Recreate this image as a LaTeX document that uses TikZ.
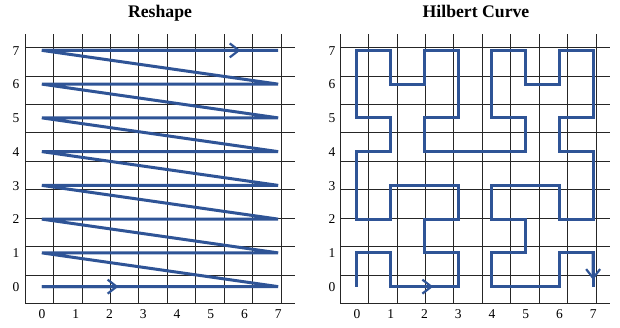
\documentclass[tikz,border=0pt]{standalone}
\usepackage{fontspec}
\setmainfont{Liberation Serif}
\usetikzlibrary{calc,arrows.meta}
\definecolor{curveblue}{RGB}{47,84,150}
\tikzset{
  gridline/.style={draw=black!85,line width=0.7pt},
  curve/.style={draw=curveblue,line width=3pt,line join=miter},
  barb/.style={-{Straight Barb[length=9pt,width=14pt,line width=2.2pt]}},
  ticklabel/.style={font=\fontsize{13.5}{14}\selectfont,inner sep=0pt,anchor=base},
  titlelabel/.style={font=\fontsize{17.7}{20}\selectfont\bfseries,anchor=base,inner sep=0pt}
}
\begin{document}
\begin{tikzpicture}[x=1pt,y=-1pt]
\useasboundingbox (0,0) rectangle (620,327);
\node[titlelabel] (t1) at (160,17) {Reshape};
\node[titlelabel] (t2) at (476,17) {Hilbert Curve};
% Reshape
\begin{scope}[shift={(25,303.5)},x=33.75pt,y=33.75pt]
  \draw[gridline] (0,0) grid (8,8);
  \foreach \k in {0,...,7}{
    \node[ticklabel] (rx\k) at (\k+.5,-0.44) {\k};
    \node[ticklabel] (ry\k) at (-0.27,\k+.362) {\k};
    \coordinate (L\k) at (0.5,\k+.5);
    \coordinate (R\k) at (7.5,\k+.5);
  }
  \draw[curve] (L0) -- (R0) -- (L1) -- (R1) -- (L2) -- (R2) -- (L3) -- (R3)
    -- (L4) -- (R4) -- (L5) -- (R5) -- (L6) -- (R6) -- (L7) -- (R7);
  \draw[curve,barb] (L0) -- ($(L0)!0.324!(R0)$);
  \draw[curve,barb] (L7) -- ($(L7)!0.841!(R7)$);
\end{scope}
% Hilbert
\begin{scope}[shift={(340,303.5)},x=33.75pt,y=33.75pt]
  \draw[gridline] (0,0) grid (8,8);
  \foreach \k in {0,...,7}{
    \node[ticklabel] (hx\k) at (\k+.5,-0.44) {\k};
    \node[ticklabel] (hy\k) at (-0.24,\k+.362) {\k};
  }
  \foreach \i/\j [count=\k] in {0/0,0/1,1/1,1/0,2/0,3/0,3/1,2/1,2/2,3/2,3/3,2/3,1/3,1/2,0/2,0/3,
    0/4,1/4,1/5,0/5,0/6,0/7,1/7,1/6,2/6,2/7,3/7,3/6,3/5,2/5,2/4,3/4,
    4/4,5/4,5/5,4/5,4/6,4/7,5/7,5/6,6/6,6/7,7/7,7/6,7/5,6/5,6/4,7/4,
    7/3,7/2,6/2,6/3,5/3,4/3,4/2,5/2,5/1,4/1,4/0,5/0,6/0,6/1,7/1,7/0}
    \coordinate (h\k) at (\i+.5,\j+.5);
  \draw[curve] (h1) \foreach \k in {2,...,64}{ -- (h\k)};
  \draw[curve,barb] (h5) -- ($(h5)!0.26!(h6)$);
  \draw[curve,barb] (h63) -- ($(h63)!0.80!(h64)$);
\end{scope}
\end{tikzpicture}
\end{document}
